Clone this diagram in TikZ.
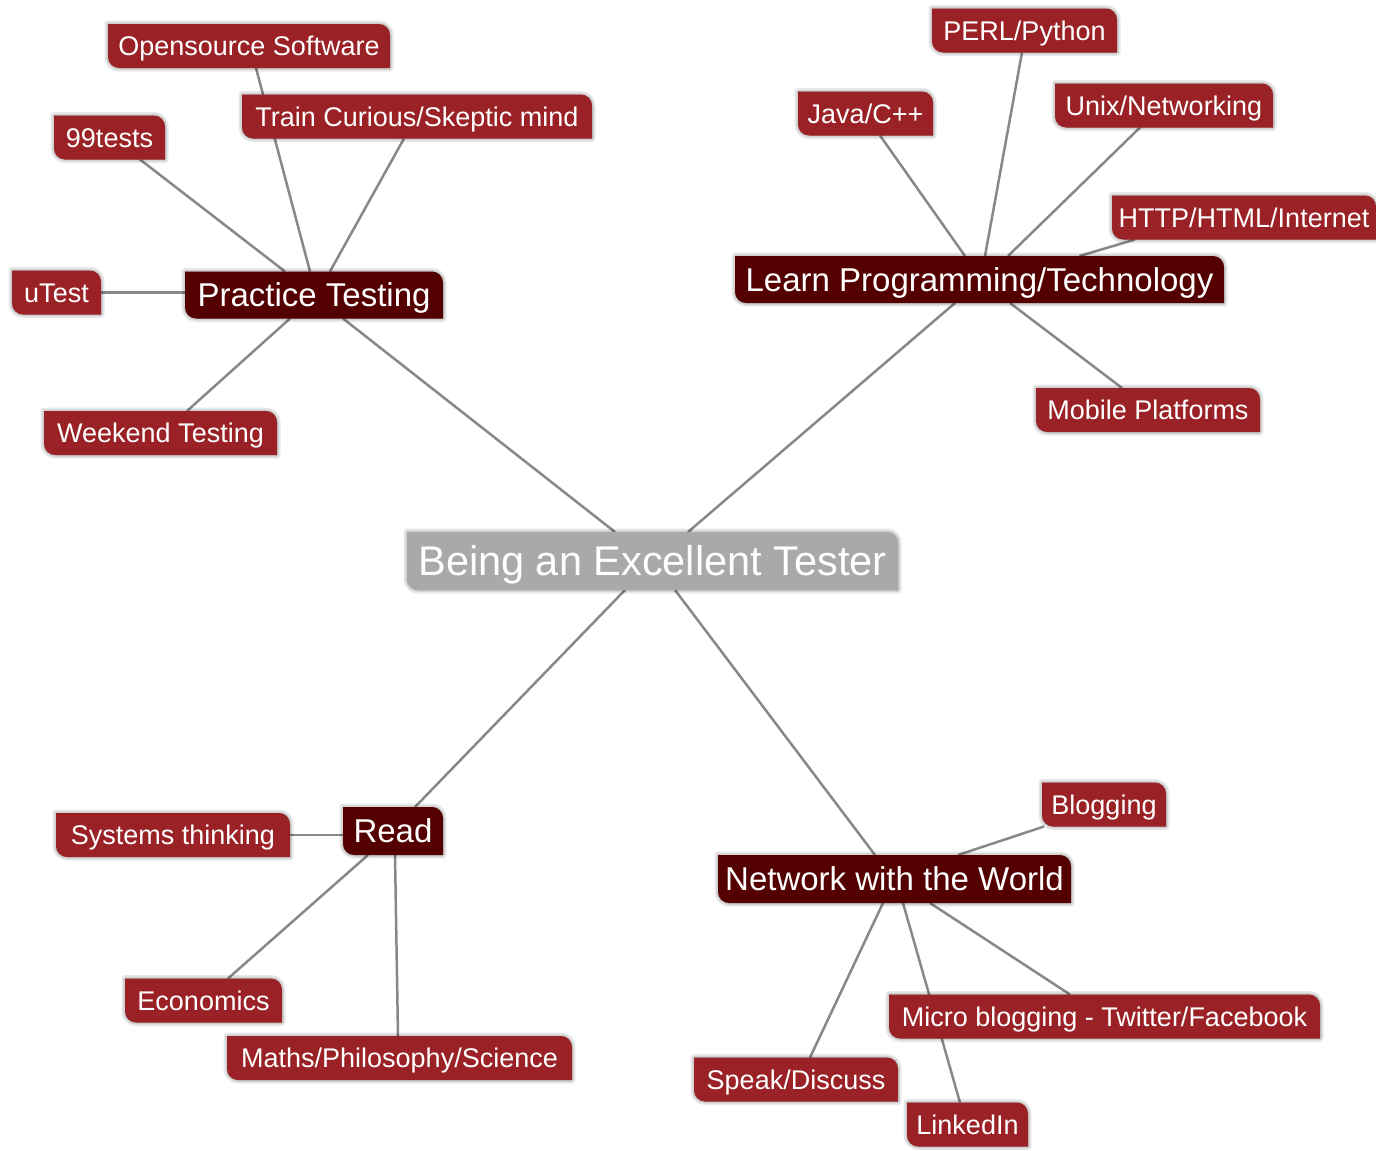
\documentclass[tikz,border=0pt]{standalone}
\usepackage{fontspec}
\setmainfont{Liberation Sans}
\usetikzlibrary{calc}
\pgfdeclarelayer{edges}
\pgfdeclarelayer{boxes}
\pgfsetlayers{edges,boxes,main}
\definecolor{leafred}{HTML}{9A2226}
\definecolor{maindark}{HTML}{540000}
\definecolor{centergray}{HTML}{A9A9A9}
\definecolor{linegray}{HTML}{888888}
\newcommand\tagpath[1]{%
    ([yshift=11pt]#1.south west) -- (#1.north west) -- ([xshift=-11pt]#1.north east)
    .. controls ([xshift=-4.9pt]#1.north east) and ([yshift=-4.9pt]#1.north east) .. ([yshift=-11pt]#1.north east)
    -- (#1.south east) -- ([xshift=11pt]#1.south west)
    .. controls ([xshift=4.9pt]#1.south west) and ([yshift=4.9pt]#1.south west) .. ([yshift=11pt]#1.south west) -- cycle}
\newcommand\tagbox[2]{%
  \begin{scope}[shift={(5pt,-6pt)}, line join=round]
    \filldraw[black, opacity=0.09, line width=7pt] \tagpath{#1};
    \filldraw[black, opacity=0.10, line width=3.5pt] \tagpath{#1};
    \fill[black, opacity=0.11] \tagpath{#1};
  \end{scope}
  \fill[#2] \tagpath{#1};}
\tikzset{
  box/.style={text=white, inner sep=0pt, outer sep=0pt, text depth=0pt},
  leaf/.style={box, font=\fontsize{27}{32}\selectfont, text height=19.3pt, minimum height=44pt},
  topic/.style={box, font=\fontsize{33}{38}\selectfont, text height=23.6pt, minimum height=47pt},
  root/.style={box, font=\fontsize{41.5}{48}\selectfont, text height=29.7pt, minimum height=58pt},
  link/.style={draw=linegray, line width=2.5pt}
}
\begin{document}
\begin{tikzpicture}[x=1pt, y=-1pt]
\useasboundingbox (0,0) rectangle (1376,1151);
% nodes
\node[root, minimum width=491pt] (center) at (652.5,561) {Being an Excellent Tester};
\node[topic, minimum width=258pt] (practice) at (314,295) {Practice Testing};
\node[topic, minimum width=489pt] (learn) at (979.5,279.5) {Learn Programming/Technology};
\node[topic, minimum width=100pt, minimum height=48pt] (read) at (393,831) {Read};
\node[topic, minimum width=353pt, minimum height=48pt] (network) at (894.5,879) {Network with the World};
\node[leaf, minimum width=282pt] (opens) at (249,46) {Opensource Software};
\node[leaf, minimum width=350pt] (train) at (417,116.5) {Train Curious/Skeptic mind};
\node[leaf, minimum width=111pt] (t99) at (109.5,137.5) {99tests};
\node[leaf, minimum width=89pt] (utest) at (56.5,292.5) {uTest};
\node[leaf, minimum width=233pt] (weekend) at (160.5,433) {Weekend Testing};
\node[leaf, minimum width=135pt] (java) at (865.5,113.5) {Java/C++};
\node[leaf, minimum width=185pt] (perl) at (1024.5,30.5) {PERL/Python};
\node[leaf, minimum width=218pt] (unix) at (1164,105.5) {Unix/Networking};
\node[leaf, minimum width=264pt] (http) at (1244,217.5) {HTTP/HTML/Internet};
\node[leaf, minimum width=224pt] (mobile) at (1148,410) {Mobile Platforms};
\node[leaf, minimum width=234pt] (systems) at (173,835) {Systems thinking};
\node[leaf, minimum width=157pt] (econ) at (203.5,1000.5) {Economics};
\node[leaf, minimum width=345pt] (maths) at (399.5,1058) {Maths/Philosophy/Science};
\node[leaf, minimum width=124pt] (blogging) at (1104,804.5) {Blogging};
\node[leaf, minimum width=431pt] (micro) at (1104.5,1016.5) {Micro blogging - Twitter/Facebook};
\node[leaf, minimum width=204pt] (speak) at (796,1079.5) {Speak/Discuss};
\node[leaf, minimum width=121pt] (linkedin) at (967.5,1124.5) {LinkedIn};
% boxes
\begin{pgfonlayer}{boxes}
\tagbox{center}{centergray}
\foreach \n in {practice,learn,read,network} {\tagbox{\n}{maindark}}
\foreach \n in {opens,train,t99,utest,weekend,java,perl,unix,http,mobile,systems,econ,maths,blogging,micro,speak,linkedin} {\tagbox{\n}{leafred}}
\end{pgfonlayer}
% connectors
\begin{pgfonlayer}{edges}
\draw[link] ([xshift=-37.5pt]center.north) -- ([xshift=29pt]practice.south);
\draw[link] ([xshift=35.5pt]center.north) -- ([xshift=-24.5pt]learn.south);
\draw[link] ([xshift=-27.5pt]center.south) -- ([xshift=22pt]read.north);
\draw[link] ([xshift=22.5pt]center.south) -- ([xshift=-19.5pt]network.north);
\draw[link] ([xshift=30.5pt]t99.south) -- ([xshift=-29pt]practice.north);
\draw[link] ([xshift=7pt]opens.south) -- ([xshift=-4pt]practice.north);
\draw[link] ([xshift=-13pt]train.south) -- ([xshift=16pt]practice.north);
\draw[link] (utest.east) -- (utest.east -| practice.west);
\draw[link] ([xshift=26.5pt]weekend.north) -- ([xshift=-24pt]practice.south);
\draw[link] ([xshift=14.5pt]java.south) -- ([xshift=-14.5pt]learn.north);
\draw[link] ([xshift=-2.5pt]perl.south) -- ([xshift=5.5pt]learn.north);
\draw[link] ([xshift=-24pt]unix.south) -- ([xshift=28.5pt]learn.north);
\draw[link] ([xshift=-109pt]http.south) -- ([xshift=100pt]learn.north);
\draw[link] ([xshift=-26pt]mobile.north) -- ([xshift=30.5pt]learn.south);
\draw[link] (systems.east) -- (systems.east -| read.west);
\draw[link] ([xshift=24.5pt]econ.north) -- ([xshift=-25pt]read.south);
\draw[link] ([xshift=-1.5pt]maths.north) -- ([xshift=2pt]read.south);
\draw[link] ([xshift=-60pt]blogging.south) -- ([xshift=63.5pt]network.north);
\draw[link] ([xshift=-34.5pt]micro.north) -- ([xshift=35.5pt]network.south);
\draw[link] ([xshift=-7.5pt]linkedin.north) -- ([xshift=8.5pt]network.south);
\draw[link] ([xshift=14pt]speak.north) -- ([xshift=-11.5pt]network.south);
\end{pgfonlayer}
\end{tikzpicture}
\end{document}
